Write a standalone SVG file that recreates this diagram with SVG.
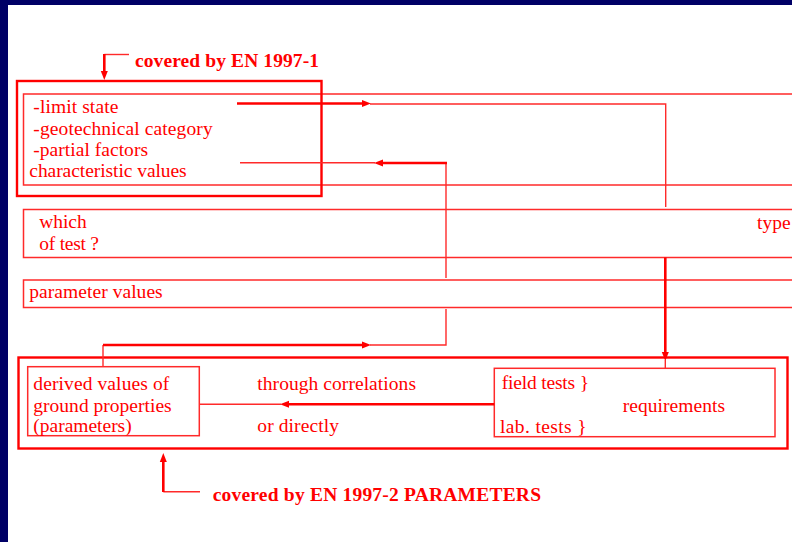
<svg xmlns="http://www.w3.org/2000/svg" width="792" height="542" viewBox="0 0 792 542">
<style>
.t{font-family:"Liberation Serif","Times New Roman",serif;font-size:19.5px;fill:#ff0000}
.b{font-family:"Liberation Serif","Times New Roman",serif;font-size:19.5px;font-weight:bold;fill:#ff0000}
.thin{fill:none;stroke:#ff2a2a;stroke-width:1.4}
.thick{fill:none;stroke:#ff0000;stroke-width:2.6}
.box{fill:none;stroke:#ff2a2a;stroke-width:1.5}
.obox{fill:none;stroke:#ff0000;stroke-width:2.4}
</style>
<defs>
<marker id="ah" markerUnits="userSpaceOnUse" markerWidth="9" markerHeight="8" refX="0" refY="4" orient="auto">
<path d="M0,0.5 L9,4 L0,7.5 z" fill="#ff0000"/>
</marker>
</defs>
<rect x="0" y="0" width="792" height="542" fill="#ffffff"/>
<rect x="0" y="0" width="792" height="5" fill="#000066"/>
<rect x="0" y="0" width="8" height="542" fill="#000066"/>

<g id="label-en1">
<text class="b" x="135" y="67" textLength="184" lengthAdjust="spacing">covered by EN 1997-1</text>
</g>
<g id="box1">
<rect class="box" x="23.5" y="94" width="800" height="91"/>
<rect class="obox" x="17" y="81" width="304.5" height="115"/>
<text class="t" x="33.3" y="112.7" textLength="85" lengthAdjust="spacing">-limit state</text>
<text class="t" x="33.3" y="135" textLength="179.4" lengthAdjust="spacing">-geotechnical category</text>
<text class="t" x="33.3" y="155.7" textLength="114.7" lengthAdjust="spacing">-partial factors</text>
<text class="t" x="29.3" y="177.3" textLength="157.4" lengthAdjust="spacing">characteristic values</text>
</g>
<g id="test-type">
<rect class="box" x="23.5" y="209.5" width="800" height="48"/>
<text class="t" x="39.3" y="228.3" textLength="47.4" lengthAdjust="spacing">which</text>
<text class="t" x="39.3" y="250" textLength="59.7" lengthAdjust="spacing">of test ?</text>
<text class="t" x="757" y="229">type</text>
</g>
<g id="parameter-values">
<rect class="box" x="23.5" y="280" width="800" height="27.5"/>
<text class="t" x="29.3" y="298.3" textLength="133.4" lengthAdjust="spacing">parameter values</text>
</g>
<g id="box2">
<rect class="obox" x="18.5" y="357.5" width="769" height="91"/>
</g>
<g id="derived">
<rect class="box" x="27.7" y="366.7" width="171.6" height="69"/>
<text class="t" x="33.3" y="390" textLength="136" lengthAdjust="spacing">derived values of</text>
<text class="t" x="33.3" y="411.7" textLength="138.4" lengthAdjust="spacing">ground properties</text>
<text class="t" x="33.3" y="431.7" textLength="98.4" lengthAdjust="spacing">(parameters)</text>
</g>
<g id="tests">
<rect class="box" x="494.3" y="368.3" width="280.7" height="68.4"/>
<text class="t" x="501.7" y="389.3" textLength="87.3" lengthAdjust="spacing">field tests }</text>
<text class="t" x="622.7" y="411.7" textLength="102.3" lengthAdjust="spacing">requirements</text>
<text class="t" x="500" y="433.3" textLength="86.7" lengthAdjust="spacing">lab. tests  }</text>
</g>
<g id="correlation-labels">
<text class="t" x="257.3" y="390" textLength="158.7" lengthAdjust="spacing">through correlations</text>
<text class="t" x="257.3" y="431.7" textLength="81.7" lengthAdjust="spacing">or directly</text>
</g>
<g id="label-en2">
<text class="b" x="212.7" y="501" textLength="328.3" lengthAdjust="spacing">covered by EN 1997-2 PARAMETERS</text>
</g>

<g id="connectors">
<path class="thin" d="M129,54.5 H104.3"/>
<path class="thick" d="M104.3,54 V71" marker-end="url(#ah)"/>
<path class="thick" d="M237,103.5 H362" marker-end="url(#ah)"/>
<path class="thin" d="M370,104 H665.7 V207"/>
<path class="thin" d="M446,278 V163"/>
<path class="thick" d="M447,163 H383" marker-end="url(#ah)"/>
<path class="thin" d="M375,162.7 H240"/>
<path class="thin" d="M103,366.7 V345"/>
<path class="thick" d="M103,345 H362" marker-end="url(#ah)"/>
<path class="thin" d="M370,345 H446 V309"/>
<path class="thick" d="M665.3,257.5 V352" marker-end="url(#ah)"/>
<path class="thin" d="M665.3,360 V368.3"/>
<path class="thick" d="M494.3,404.3 H289" marker-end="url(#ah)"/>
<path class="thin" d="M281,404.3 H200"/>
<path class="thin" d="M200,491.7 H163.3"/>
<path class="thick" d="M163.3,492 V462" marker-end="url(#ah)"/>
</g>
</svg>
